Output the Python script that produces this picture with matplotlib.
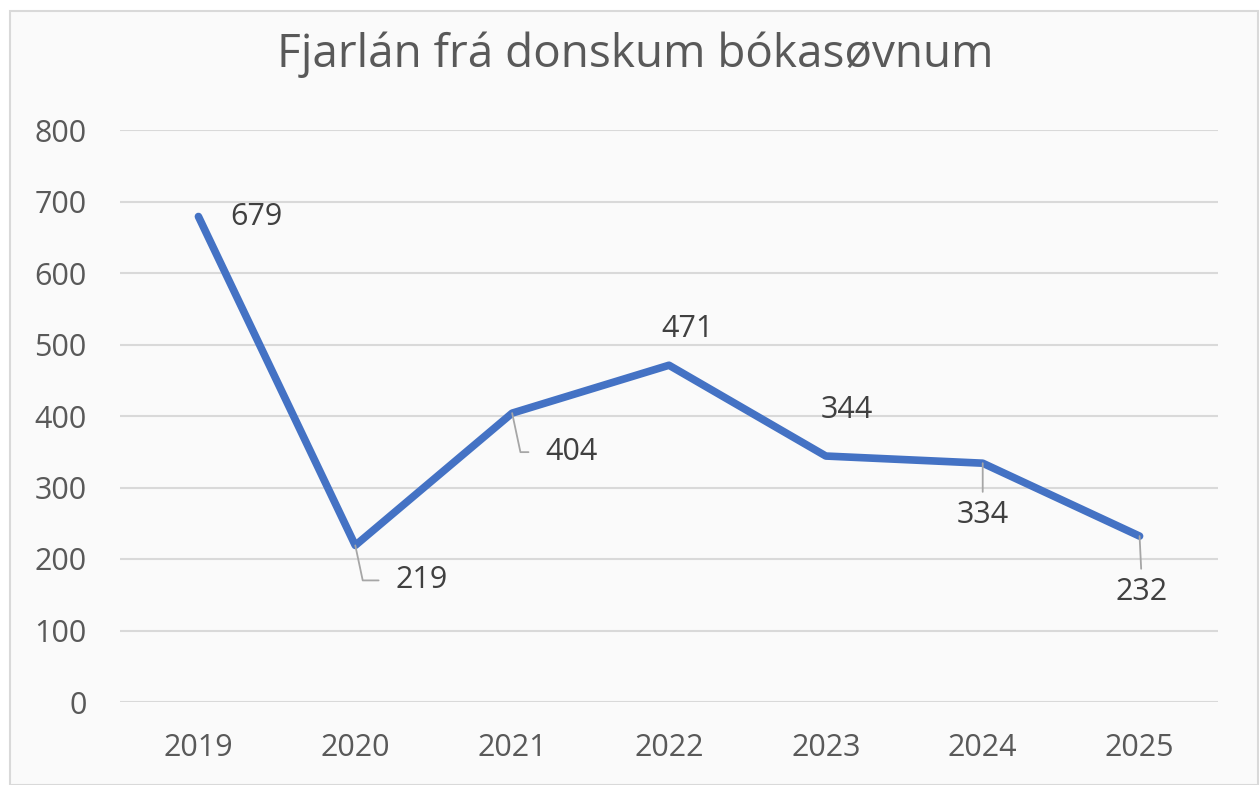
import matplotlib.pyplot as plt
import matplotlib.patches as mpatches

plt.rcParams['font.family'] = ['Open Sans', 'DejaVu Sans']

years = ['2019', '2020', '2021', '2022', '2023', '2024', '2025']
loans = [679, 219, 404, 471, 344, 334, 232]
y_ticks = [0, 100, 200, 300, 400, 500, 600, 700, 800]

# label offsets in pixels (dx, dy), alignment and whether a leader line is drawn
label_pos = [
    (32, 0, 'left', False),
    (40, -35, 'left', True),
    (33, -39, 'left', True),
    (19, 36, 'center', False),
    (21, 46, 'center', False),
    (0, -52, 'center', True),
    (2, -56, 'center', True),
]

fig = plt.figure(figsize=(12.6, 7.85), dpi=100)
fig.patch.set_facecolor('white')
bg = mpatches.Rectangle((10 / 1260, 0), 1248 / 1260, 774 / 785, transform=fig.transFigure,
                        facecolor='#fafafa', edgecolor='#d9d9d9', linewidth=1.5, zorder=-10)
fig.patches.append(bg)

ax = fig.add_axes([120 / 1260, 1 - 702 / 785, 1098 / 1260, 572 / 785])
ax.set_facecolor('none')

x = list(range(len(years)))
ax.plot(x, loans, color='#4472C4', linewidth=5.5, solid_capstyle='round',
        solid_joinstyle='round', zorder=3)

for i, (v, (dx, dy, ha, leader)) in enumerate(zip(loans, label_pos)):
    kw = {}
    if leader:
        if ha == 'left':
            kw['arrowprops'] = dict(arrowstyle='-', color='#a6a6a6', lw=1.3,
                                    connectionstyle='angle,angleA=0,angleB=-78,rad=0',
                                    relpos=(0, 0.5), shrinkA=10, shrinkB=0)
        else:
            kw['arrowprops'] = dict(arrowstyle='-', color='#a6a6a6', lw=1.3,
                                    relpos=(0.5, 1), shrinkA=4, shrinkB=0)
    ax.annotate(str(v), xy=(i, v), xytext=(dx, dy), textcoords='offset pixels',
                ha=ha, va='center', fontsize=22, color='#404040', zorder=4, **kw)

ax.set_xlim(-0.5, len(years) - 0.5)
ax.set_ylim(0, 800)
ax.set_yticks(y_ticks)
ax.set_xticks(x)
ax.set_xticklabels(years)
ax.grid(axis='y', color='#d9d9d9', linewidth=1.5)
ax.set_axisbelow(True)
for s in ax.spines.values():
    s.set_visible(False)
ax.tick_params(axis='y', length=0, pad=24, labelsize=22, labelcolor='#595959')
ax.tick_params(axis='x', length=0, pad=22, labelsize=22, labelcolor='#595959')

fig.text(635 / 1260, 1 - 55 / 785, 'Fjarlán frá donskum bókasøvnum', ha='center', va='center',
         fontsize=33, color='#595959')

fig.savefig('out.png', dpi=100)
